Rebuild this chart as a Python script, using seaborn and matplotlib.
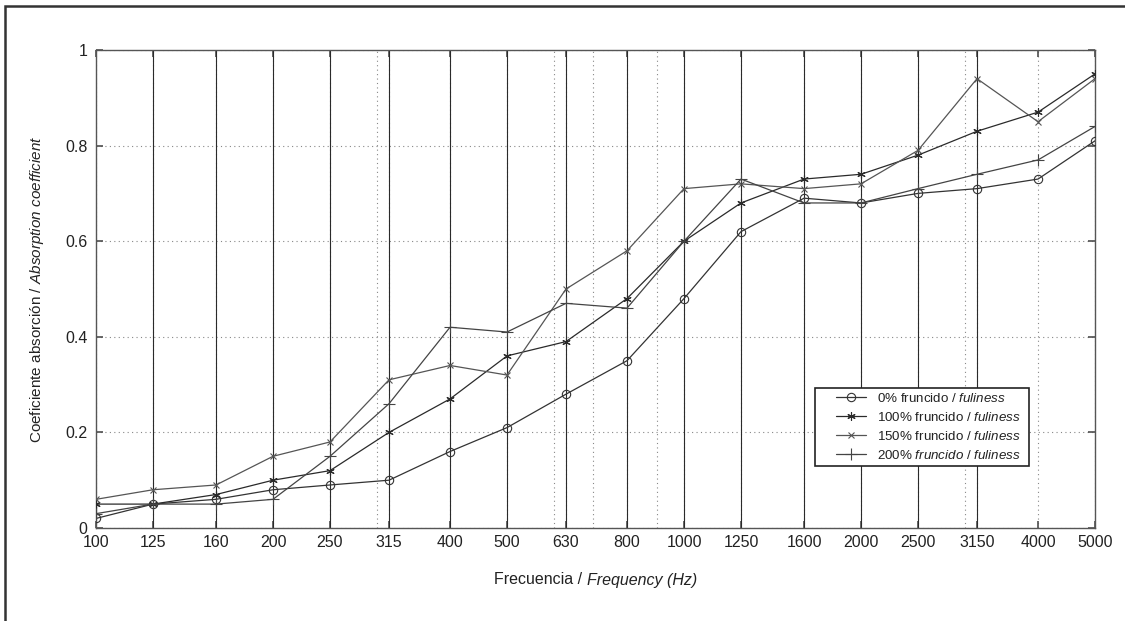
import matplotlib
matplotlib.use("Agg")
import matplotlib.pyplot as plt
import matplotlib.patches as mpatches
from matplotlib.lines import Line2D
from matplotlib.legend_handler import HandlerLine2D
from matplotlib.ticker import FixedLocator, LogLocator, NullFormatter
import seaborn as sns

freqs = [100, 125, 160, 200, 250, 315, 400, 500, 630, 800, 1000, 1250,
         1600, 2000, 2500, 3150, 4000, 5000]
freq_labels = [str(f) for f in freqs]

alpha_0 = [0.02, 0.05, 0.06, 0.08, 0.09, 0.10, 0.16, 0.21, 0.28, 0.35, 0.48,
           0.62, 0.69, 0.68, 0.70, 0.71, 0.73, 0.81]
alpha_100 = [0.05, 0.05, 0.07, 0.10, 0.12, 0.20, 0.27, 0.36, 0.39, 0.48, 0.60,
             0.68, 0.73, 0.74, 0.78, 0.83, 0.87, 0.95]
alpha_150 = [0.06, 0.08, 0.09, 0.15, 0.18, 0.31, 0.34, 0.32, 0.50, 0.58, 0.71,
             0.72, 0.71, 0.72, 0.79, 0.94, 0.85, 0.94]
alpha_200 = [0.03, 0.05, 0.05, 0.06, 0.15, 0.26, 0.42, 0.41, 0.47, 0.46, 0.60,
             0.73, 0.68, 0.68, 0.71, 0.74, 0.77, 0.84]

labels = [r"0% fruncido / $\mathit{fuliness}$",
          r"100% fruncido / $\mathit{fuliness}$",
          r"150% fruncido / $\mathit{fuliness}$",
          r"$\mathit{200\%\ fruncido}$ / $\mathit{fuliness}$"]

yticks = [0, 0.2, 0.4, 0.6, 0.8, 1]
ytick_labels = ["0", "0.2", "0.4", "0.6", "0.8", "1"]

xlabel_parts = [("Frecuencia / ", "normal"), ("Frequency (Hz)", "italic")]
ylabel_text = r"Coeficiente absorción / $\mathit{Absorption\ coefficient}$"

sns.set_theme(style="white")
plt.rcParams["font.family"] = ["Liberation Sans", "DejaVu Sans"]
plt.rcParams["mathtext.fontset"] = "custom"
plt.rcParams["mathtext.rm"] = "Liberation Sans"
plt.rcParams["mathtext.it"] = "Liberation Sans:italic"
plt.rcParams["mathtext.default"] = "regular"

W, H = 1125, 621
fig = plt.figure(figsize=(W / 100, H / 100), dpi=100)
ax = fig.add_axes([96 / W, 1 - 528 / H, 999 / W, 478 / H])

# outer frame (cropped box: only left and top edges visible)
top = 1 - 6 / H
frame = mpatches.Rectangle((5 / W, -0.2), 1.2, top + 0.2,
                           transform=fig.transFigure, fill=False,
                           edgecolor="#333333", linewidth=1.8, zorder=10)
fig.patches.append(frame)

ax.set_xscale("log")
ax.set_xlim(100, 5000)
ax.set_ylim(0, 1)

grid_style = dict(color="#888888", linestyle=(0, (1, 3)), linewidth=0.8)
ax.xaxis.set_major_locator(FixedLocator(freqs))
ax.set_xticks(freqs)
ax.set_xticklabels(freq_labels)
ax.xaxis.set_minor_locator(LogLocator(base=10, subs=range(2, 10)))
ax.xaxis.set_minor_formatter(NullFormatter())
ax.set_yticks(yticks)
ax.set_yticklabels(ytick_labels)
ax.grid(True, which="major", axis="both", **grid_style)
ax.grid(True, which="minor", axis="x", **grid_style)
ax.set_axisbelow(True)

solid_grid_freqs = [f for f in freqs if f not in (freqs[0], freqs[-2], freqs[-1])]
for f in solid_grid_freqs:
    ax.axvline(f, color="#2a2a2a", linewidth=0.8, zorder=1)

series = [alpha_0, alpha_100, alpha_150, alpha_200]
markers = ["o", (6, 2, 0), "x", "+"]
msizes = [6, 6, 4, 8]
colors = ["#333333", "#2a2a2a", "#555555", "#444444"]
for vals, lab, mk, ms, c in zip(series, labels, markers, msizes, colors):
    sns.lineplot(x=freqs, y=vals, ax=ax, label=lab, color=c, linewidth=0.9,
                 marker=mk, markersize=ms, markerfacecolor="none",
                 markeredgecolor=c, markeredgewidth=0.8, zorder=3)

for sp in ax.spines.values():
    sp.set_color("#555555")
    sp.set_linewidth(1.0)
    sp.set_visible(True)

ax.tick_params(axis="both", which="major", direction="in", length=5,
               top=True, right=True, bottom=True, left=True,
               labelsize=11.5, colors="#555555", labelcolor="#222222")
ax.tick_params(axis="x", which="major", pad=5)
ax.tick_params(axis="y", which="major", pad=6)
ax.tick_params(axis="x", which="minor", length=0)

ax.set_ylabel(ylabel_text, fontsize=11, color="#222222")
ax.yaxis.set_label_coords(-0.050, 0.5)

# x label with mixed upright / italic parts, centred under the axes
renderer = fig.canvas.get_renderer()
xl_fs = 11.5
part_texts = []
widths = []
for s, st in xlabel_parts:
    t = fig.text(0, 0, s, fontsize=xl_fs, style=st, color="#222222",
                 ha="left", va="center")
    part_texts.append(t)
    widths.append(t.get_window_extent(renderer).width)
total = sum(widths)
cx = (96 + 1095) / 2
x0 = cx - total / 2
for t, w in zip(part_texts, widths):
    t.set_position((x0 / W, 1 - 580 / H))
    x0 += w

# legend
leg_x0 = (815 - 96) / 999
leg_w = (1029 - 815) / 999
leg_top = (528 - 388) / 478
leg = ax.legend(loc="upper left", bbox_to_anchor=(leg_x0, leg_top - 0.2, leg_w, 0.2),
                mode="expand", borderaxespad=0, fontsize=9.6, frameon=True,
                fancybox=False, framealpha=1, edgecolor="#222222",
                handlelength=3.56, handletextpad=0.76, labelspacing=0.45,
                borderpad=0.3,
                handler_map={Line2D: HandlerLine2D(xpad=1.29)})
leg.get_frame().set_linewidth(1.2)
for t in leg.get_texts():
    t.set_color("#222222")

fig.savefig("out.png", dpi=100, facecolor="white")
